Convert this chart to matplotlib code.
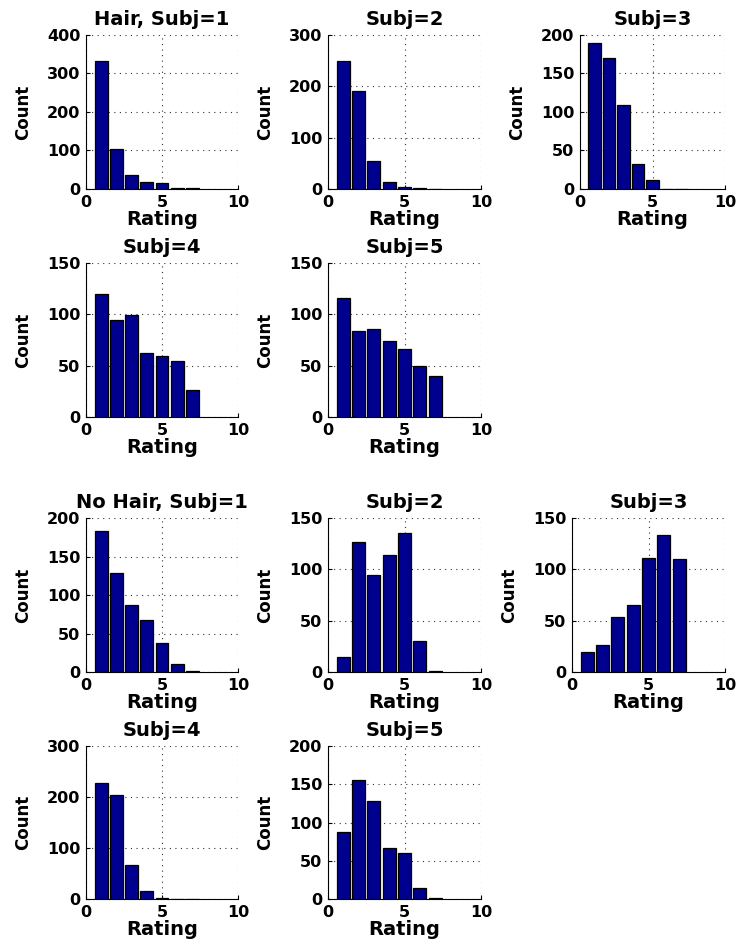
import matplotlib.pyplot as plt

ratings = [1, 2, 3, 4, 5, 6, 7]

# counts per rating, with hair
hair_s1 = [332, 105, 36, 19, 15, 3.5, 2]
hair_s2 = [249, 191, 55, 14, 3, 1, 0.5]
hair_s3 = [190, 170, 109, 33, 12, 0.5, 0.3]
hair_s4 = [120, 94, 99, 62, 59, 55, 26]
hair_s5 = [116, 84, 86, 74, 66, 50, 40]

# counts per rating, no hair
nohair_s1 = [183, 129, 87, 68, 38, 10, 1.3]
nohair_s2 = [15, 127, 94, 114, 135, 30, 0.5]
nohair_s3 = [19, 26, 54, 65, 111, 133, 110]
nohair_s4 = [227, 203, 67, 16, 2, 0.7, 0.5]
nohair_s5 = [87, 156, 128, 67, 60, 15, 1.3]

hair_ymax = [400, 300, 200, 150, 150]
nohair_ymax = [200, 150, 150, 300, 200]

W, H = 737, 946
BAR_COLOR = '#00008f'

plt.rcParams['font.family'] = 'DejaVu Sans'
plt.rcParams['font.weight'] = 'bold'

fig = plt.figure(figsize=(W / 100, H / 100), dpi=100)


def make_axes(left, top, width, height):
    return fig.add_axes([left / W, 1 - (top + height) / H, width / W, height / H])


def draw_hist(ax, counts, ymax, title):
    ax.bar(ratings, counts, width=0.84, color=BAR_COLOR, edgecolor='black',
           linewidth=0.9, zorder=3)
    ax.set_xlim(0, 10)
    ax.set_ylim(0, ymax)
    ax.set_xticks([0, 5, 10])
    step = 100 if ymax >= 300 else 50
    ax.set_yticks(range(0, ymax + 1, step))
    ax.grid(True, linestyle=(0, (1, 4)), color='0.2', linewidth=0.8, zorder=0)
    ax.spines['top'].set_visible(False)
    ax.spines['right'].set_visible(False)
    ax.tick_params(direction='in', length=3, labelsize=11.5, pad=4)
    for lab in ax.get_xticklabels() + ax.get_yticklabels():
        lab.set_fontweight('bold')
    ax.set_title(title, fontsize=14, fontweight='bold', pad=7)
    ax.set_xlabel('Rating', fontsize=14, fontweight='bold', labelpad=0)
    ax.set_ylabel('Count', fontsize=12, fontweight='bold', labelpad=11)


hair_sets = [hair_s1, hair_s2, hair_s3, hair_s4, hair_s5]
nohair_sets = [nohair_s1, nohair_s2, nohair_s3, nohair_s4, nohair_s5]

# pixel boxes: (left, top, width, height)
hair_boxes = [(86, 35, 152, 154), (328, 35, 153, 154), (580, 35, 145, 154),
              (86, 263, 152, 154), (328, 263, 153, 154)]
nohair_boxes = [(86, 518, 152, 154), (328, 518, 153, 154), (572, 518, 153, 154),
                (86, 746, 152, 153), (328, 746, 153, 153)]

for i, (counts, ymax, box) in enumerate(zip(hair_sets, hair_ymax, hair_boxes)):
    title = 'Hair, Subj=%d' % (i + 1) if i == 0 else 'Subj=%d' % (i + 1)
    draw_hist(make_axes(*box), counts, ymax, title)

for i, (counts, ymax, box) in enumerate(zip(nohair_sets, nohair_ymax, nohair_boxes)):
    title = 'No Hair, Subj=%d' % (i + 1) if i == 0 else 'Subj=%d' % (i + 1)
    draw_hist(make_axes(*box), counts, ymax, title)

fig.savefig('out.png', dpi=100)
